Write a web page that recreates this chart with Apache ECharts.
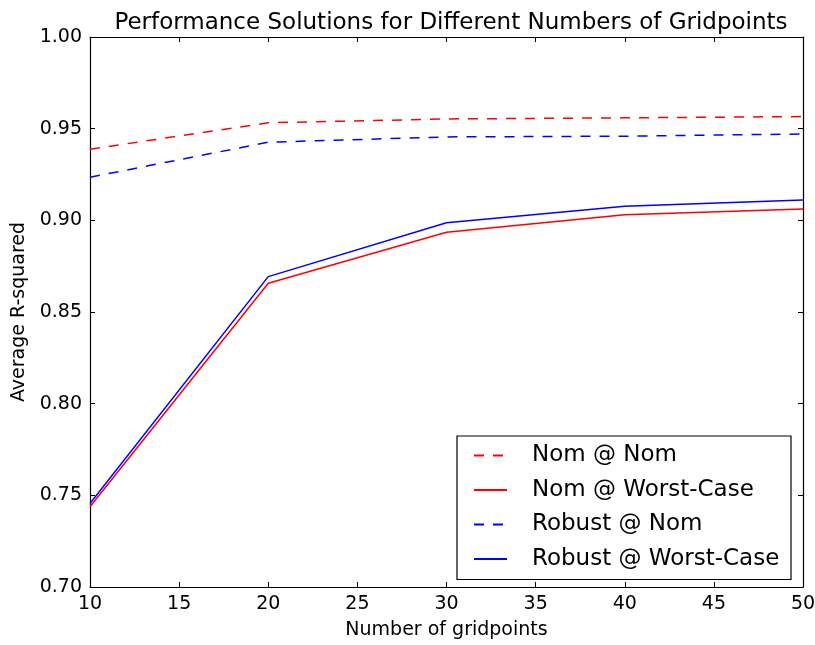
<!DOCTYPE html>
<html>
<head>
<meta charset="utf-8">
<script src="https://cdn.jsdelivr.net/npm/echarts@6/dist/echarts.min.js"></script>
<style>
  html, body { margin: 0; padding: 0; background: #fff; }
  #chart { width: 815px; height: 645px; }
</style>
</head>
<body>
<div id="chart"></div>
<script>
// Number of gridpoints evaluated
const gridpoints = [10, 20, 30, 40, 50];

// Average R-squared per solution / evaluation scenario
const nomAtNom = [0.9388, 0.9532, 0.9553, 0.9559, 0.9566];
const nomAtWorst = [0.7438, 0.8657, 0.8935, 0.9031, 0.9062];
const robustAtNom = [0.9235, 0.9426, 0.9455, 0.9459, 0.9471];
const robustAtWorst = [0.7455, 0.8693, 0.8987, 0.9077, 0.9111];

const seriesNames = ['Nom @ Nom', 'Nom @ Worst-Case', 'Robust @ Nom', 'Robust @ Worst-Case'];

const FONT = 'DejaVu Sans';
const pairs = (ys) => gridpoints.map((x, i) => [x, ys[i]]);

function lineSeries(name, ys, color, dashed) {
  return {
    name: name,
    type: 'line',
    data: pairs(ys),
    xAxisIndex: 0,
    yAxisIndex: 0,
    symbol: 'none',
    animation: false,
    lineStyle: { color: color, width: 1.5, type: dashed ? [10, 9] : 'solid' },
    itemStyle: { color: color }
  };
}

const tickStyle = { inside: true, length: 5, lineStyle: { color: '#000', width: 1 } };
const axisLineStyle = { show: true, lineStyle: { color: '#000', width: 1.2 } };

const chart = echarts.init(document.getElementById('chart'), null, { renderer: 'canvas' });
chart.setOption({
  backgroundColor: '#fff',
  animation: false,
  title: {
    text: 'Performance Solutions for Different Numbers of Gridpoints',
    left: 446, top: 7, textAlign: 'center',
    textStyle: { fontFamily: FONT, fontSize: 23, fontWeight: 'normal', color: '#000' }
  },
  grid: { left: 90, right: 12, top: 37, bottom: 58, outerBoundsMode: 'none' },
  legend: {
    data: seriesNames,
    orient: 'vertical',
    left: 457, top: 436,
    padding: [8, 11, 9, 16],
    itemWidth: 33, itemHeight: 14, itemGap: 11.5,
    borderColor: '#000', borderWidth: 1.2, borderRadius: 0,
    backgroundColor: '#fff',
    itemStyle: { color: 'rgba(0,0,0,0)', borderWidth: 0 },
    textStyle: { fontFamily: FONT, fontSize: 23, color: '#000', width: 248, lineHeight: 22, padding: [0, 0, 0, 20] }
  },
  xAxis: [
    {
      type: 'value', min: 10, max: 50, interval: 5,
      name: 'Number of gridpoints', nameLocation: 'middle', nameGap: 34,
      nameTextStyle: { fontFamily: FONT, fontSize: 19, color: '#000' },
      axisLine: axisLineStyle, axisTick: tickStyle,
      axisLabel: { fontFamily: FONT, fontSize: 19, color: '#000', margin: 8 },
      splitLine: { show: false }
    },
    {
      type: 'value', position: 'top', min: 10, max: 50, interval: 5,
      axisLine: axisLineStyle, axisTick: tickStyle,
      axisLabel: { show: false }, splitLine: { show: false }
    }
  ],
  yAxis: [
    {
      type: 'value', min: 0.7, max: 1.0, interval: 0.05,
      name: 'Average R-squared', nameLocation: 'middle', nameGap: 61, nameRotate: 90,
      nameTextStyle: { fontFamily: FONT, fontSize: 19, color: '#000' },
      axisLine: axisLineStyle, axisTick: tickStyle,
      axisLabel: { fontFamily: FONT, fontSize: 19, color: '#000', margin: 8, formatter: (v) => v.toFixed(2) },
      splitLine: { show: false }
    },
    {
      type: 'value', position: 'right', min: 0.7, max: 1.0, interval: 0.05,
      axisLine: axisLineStyle, axisTick: tickStyle,
      axisLabel: { show: false }, splitLine: { show: false }
    }
  ],
  series: [
    lineSeries(seriesNames[0], nomAtNom, '#ff0000', true),
    lineSeries(seriesNames[1], nomAtWorst, '#ff0000', false),
    lineSeries(seriesNames[2], robustAtNom, '#0000ff', true),
    lineSeries(seriesNames[3], robustAtWorst, '#0000ff', false)
  ]
});
</script>
</body>
</html>
